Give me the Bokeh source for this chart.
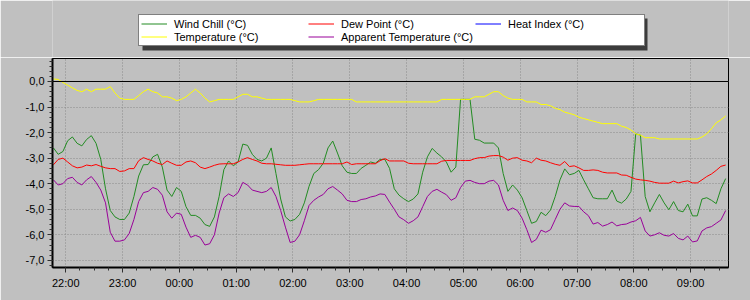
import pandas as pd
from bokeh.plotting import figure
from bokeh.layouts import column
from bokeh.models import (Range1d, FixedTicker, DatetimeTickFormatter, CustomJSTickFormatter,
                          Span, Legend, LegendItem, ColumnDataSource)
from bokeh.embed import file_html
from bokeh.resources import INLINE

# ---------------- data (5-minute readings, 21:47 -> 09:37) ----------------
start_time = "2024-01-01 21:47"
step = "5min"

temperature = [
    0.1, 0.08, -0.04, -0.14, -0.25, -0.35, -0.4, -0.3, -0.4, -0.3,
    -0.3, -0.3, -0.2, -0.45, -0.65, -0.7, -0.7, -0.7, -0.55, -0.4,
    -0.3, -0.4, -0.45, -0.6, -0.6, -0.65, -0.75, -0.7, -0.6, -0.45,
    -0.3, -0.45, -0.65, -0.8, -0.75, -0.7, -0.7, -0.7, -0.7, -0.6,
    -0.5, -0.5, -0.6, -0.6, -0.65, -0.7, -0.7, -0.7, -0.7, -0.7,
    -0.7, -0.75, -0.8, -0.8, -0.8, -0.75, -0.7, -0.7, -0.7, -0.7,
    -0.7, -0.7, -0.7, -0.7, -0.8, -0.8, -0.8, -0.8, -0.8, -0.8,
    -0.8, -0.8, -0.8, -0.8, -0.8, -0.8, -0.8, -0.8, -0.8, -0.8,
    -0.8, -0.8, -0.7, -0.7, -0.7, -0.7, -0.7, -0.7, -0.7, -0.6,
    -0.6, -0.6, -0.5, -0.4, -0.4, -0.55, -0.65, -0.7, -0.7, -0.7,
    -0.8, -0.8, -0.8, -0.9, -0.9, -0.95, -1.05, -1.1, -1.2, -1.25,
    -1.3, -1.4, -1.45, -1.5, -1.55, -1.6, -1.65, -1.65, -1.65, -1.65,
    -1.75, -1.8, -1.9, -2.05, -2.1, -2.2, -2.2, -2.2, -2.25, -2.25,
    -2.25, -2.25, -2.25, -2.25, -2.25, -2.25, -2.25, -2.17, -2.05, -1.85,
    -1.62, -1.5, -1.35,
]

dew_point = [
    -3.26, -3.05, -3.0, -3.15, -3.3, -3.38, -3.35, -3.27, -3.3, -3.25,
    -3.32, -3.38, -3.41, -3.41, -3.52, -3.5, -3.41, -3.41, -3.1, -2.98,
    -3.05, -3.11, -3.2, -3.25, -3.11, -3.2, -3.28, -3.28, -3.15, -3.11,
    -3.18, -3.35, -3.41, -3.35, -3.28, -3.23, -3.22, -3.22, -3.22, -3.15,
    -3.05, -2.98, -3.05, -3.11, -3.2, -3.22, -3.22, -3.24, -3.26, -3.28,
    -3.28, -3.28, -3.26, -3.24, -3.22, -3.22, -3.22, -3.22, -3.22, -3.22,
    -3.22, -3.22, -3.15, -3.25, -3.22, -3.22, -3.22, -3.22, -3.22, -3.1,
    -3.02, -3.11, -3.11, -3.11, -3.11, -3.2, -3.22, -3.22, -3.22, -3.22,
    -3.22, -3.22, -3.12, -3.09, -3.09, -3.09, -3.09, -3.09, -3.09, -3.02,
    -2.98, -2.98, -2.92, -2.9, -2.9, -2.96, -3.08, -3.0, -2.98, -3.08,
    -3.11, -3.18, -3.0, -3.08, -3.11, -3.18, -3.24, -3.28, -3.13, -3.33,
    -3.3, -3.38, -3.48, -3.48, -3.46, -3.48, -3.55, -3.58, -3.58, -3.58,
    -3.66, -3.67, -3.75, -3.82, -3.85, -3.87, -3.9, -3.95, -3.98, -3.98,
    -3.98, -3.9, -3.97, -3.92, -3.89, -3.97, -3.97, -3.85, -3.72, -3.62,
    -3.48, -3.32, -3.27,
]

apparent_temperature = [
    -3.85, -4.05, -4.0, -3.8, -3.75, -3.95, -4.05, -3.85, -3.72, -3.95,
    -4.25, -4.75, -5.9, -6.25, -6.25, -6.2, -5.95, -5.4, -4.7, -4.35,
    -4.3, -4.15, -4.22, -4.45, -5.1, -5.35, -5.15, -5.2, -5.7, -6.1,
    -6.02, -6.1, -6.4, -6.35, -6.0, -5.15, -4.55, -4.4, -4.5, -4.35,
    -3.95, -4.05, -4.25, -4.3, -4.35, -4.3, -4.15, -4.5, -5.05, -5.7,
    -6.3, -6.25, -6.0, -5.45, -4.85, -4.65, -4.52, -4.42, -4.2, -4.11,
    -4.25, -4.4, -4.65, -4.7, -4.7, -4.62, -4.59, -4.52, -4.48, -4.4,
    -4.42, -4.72, -5.0, -5.3, -5.41, -5.55, -5.45, -5.3, -4.9, -4.5,
    -4.3, -4.22, -4.33, -4.43, -4.65, -4.55, -4.15, -3.9, -3.87, -3.95,
    -4.0, -4.0, -3.9, -3.87, -4.05, -4.65, -5.05, -4.95, -5.05, -5.35,
    -5.8, -6.3, -6.18, -5.82, -5.9, -5.8, -5.4, -5.0, -4.75, -4.87,
    -4.89, -4.89, -5.1, -5.25, -5.58, -5.52, -5.66, -5.6, -5.5, -5.65,
    -5.6, -5.58, -5.5, -5.45, -5.32, -5.85, -6.05, -6.0, -5.92, -6.02,
    -6.05, -5.95, -6.14, -6.2, -6.05, -6.28, -6.24, -5.85, -5.73, -5.68,
    -5.55, -5.42, -5.05,
]

wind_chill = [
    -2.6, -2.85, -2.74, -2.32, -2.17, -2.42, -2.52, -2.27, -2.12, -2.42,
    -3.05, -4.2, -5.05, -5.3, -5.4, -5.4, -5.15, -4.5, -3.7, -3.26,
    -3.25, -2.95, -2.85, -3.35, -4.25, -4.5, -4.15, -4.3, -4.9, -5.24,
    -5.24, -5.35, -5.6, -5.67, -5.3, -4.5, -3.45, -3.11, -3.3, -3.15,
    -2.45, -2.5, -2.85, -3.05, -3.11, -3.0, -2.6, -3.6, -4.6, -5.3,
    -5.46, -5.4, -5.2, -4.75, -4.1, -3.6, -3.45, -3.2, -2.6, -2.33,
    -2.8, -3.3, -3.55, -3.6, -3.6, -3.4, -3.28, -3.15, -3.2, -3.05,
    -3.05, -3.4, -4.2, -4.45, -4.59, -4.7, -4.6, -4.4, -3.55, -2.95,
    -2.62, -2.8, -2.95, -3.15, -3.55, -3.35, -0.7, -0.7, -0.7, -2.26,
    -2.3, -2.41, -2.41, -2.41, -2.6, -3.6, -4.3, -4.05, -4.25, -4.55,
    -5.05, -5.55, -5.48, -5.12, -5.25, -5.03, -4.5, -3.85, -3.42, -3.65,
    -3.6, -3.48, -3.85, -4.2, -4.55, -4.59, -4.59, -4.59, -4.25, -4.68,
    -4.76, -4.6, -4.3, -2.05, -2.1, -4.5, -5.1, -4.75, -4.42, -4.75,
    -5.02, -4.7, -5.05, -5.1, -4.8, -5.26, -5.26, -4.6, -4.55, -4.65,
    -4.78, -4.2, -3.8,
]

series_labels = ["Wind Chill (°C)", "Dew Point (°C)", "Heat Index (°C)",
                 "Temperature (°C)", "Apparent Temperature (°C)"]
series_colors = ["#228B22", "#ff0000", "#0000ff", "#ffff00", "#990099"]
# column of each legend entry (Heat Index has no trace drawn in the chart)
series_fields = ["wc", "dp", "tmp", "tmp", "at"]

y_major = [0, -1, -2, -3, -4, -5, -6, -7]
x_start, x_end = "2024-01-01 21:46", "2024-01-02 09:40"
hour_first, hour_last = "2024-01-01 22:00", "2024-01-02 09:00"

times = pd.date_range(start_time, periods=len(temperature), freq=step)
src = ColumnDataSource(dict(t=times, wc=wind_chill, dp=dew_point,
                            tmp=temperature, at=apparent_temperature))

BG = "#c0c0c0"
FONT = "Liberation Sans"
W, H = 750, 300
FRAME_L, FRAME_R, FRAME_T, FRAME_B = 52, 728, 58, 267
LEG_H = FRAME_T - 1

# ---------------- legend strip ----------------
# canvas-pixel coordinates (frame is aligned with the chart below)
lg = figure(width=W, height=LEG_H, output_backend="svg", toolbar_location=None,
            x_range=Range1d(FRAME_L, FRAME_R), y_range=Range1d(LEG_H, 0),
            x_axis_location=None, y_axis_location=None,
            min_border_left=FRAME_L, min_border_right=W - FRAME_R,
            min_border_top=0, min_border_bottom=0,
            background_fill_color=BG, border_fill_color=BG,
            outline_line_color=None)
lg.grid.visible = False
lg.quad(left=[142], right=[647], top=[18], bottom=[50],
        fill_color="#3c3c3c", line_color=None)
# legend proxies: the series plotted on datetime x, far outside this strip's view
proxies = [lg.line("t", f, source=src, line_color=c, line_width=1)
           for f, c in zip(series_fields, series_colors)]
legend = Legend(items=[LegendItem(label=l, renderers=[r])
                       for l, r in zip(series_labels, proxies)],
                location=(138 - FRAME_L, LEG_H - 46), orientation="horizontal", ncols=3,
                background_fill_color="white", background_fill_alpha=1,
                border_line_color="black", border_line_width=1,
                padding=2, margin=0, spacing=0,
                glyph_width=26, glyph_height=13, label_height=13, label_width=134,
                label_standoff=7, label_text_font=FONT, label_text_font_size="11px",
                label_text_color="black")
lg.add_layout(legend)

# ---------------- main chart ----------------
p = figure(width=W, height=H - LEG_H, output_backend="svg", toolbar_location=None,
           x_axis_type="datetime",
           x_range=Range1d(pd.Timestamp(x_start), pd.Timestamp(x_end)),
           y_range=Range1d(-7.28, 0.9),
           min_border_left=FRAME_L, min_border_right=W - FRAME_R,
           min_border_top=FRAME_T - LEG_H, min_border_bottom=H - FRAME_B,
           background_fill_color=BG, border_fill_color=BG,
           outline_line_color="black", outline_line_width=1)

def ms(ts):
    return ts.value // 10**6

hours = pd.date_range(hour_first, hour_last, freq="1h")
quarters = pd.date_range(pd.Timestamp(hour_first) - pd.Timedelta("15min"),
                         pd.Timestamp(x_end), freq="15min")
p.xaxis.ticker = FixedTicker(ticks=[ms(h) for h in hours],
                             minor_ticks=[ms(q) for q in quarters])
p.xaxis.formatter = DatetimeTickFormatter(hours="%H:%M", hourmin="%H:%M",
                                          minutes="%H:%M", days="%H:%M")
y_minor = [round(-7.2 + 0.2 * i, 1) for i in range(41)]
p.yaxis.ticker = FixedTicker(ticks=y_major, minor_ticks=y_minor)
p.yaxis.formatter = CustomJSTickFormatter(code="return tick.toFixed(1).replace('.', ',');")

for ax in (p.xaxis, p.yaxis):
    ax.axis_line_width = 2
    ax.axis_line_color = "black"
    ax.major_tick_line_color = "#303030"
    ax.minor_tick_line_color = "#303030"
    ax.major_tick_out = 5
    ax.major_tick_in = 0
    ax.minor_tick_out = 3
    ax.minor_tick_in = 0
    ax.major_label_text_font = FONT
    ax.major_label_text_font_size = "11px"
    ax.major_label_text_color = "black"
p.yaxis.major_label_standoff = 3
p.xaxis.major_label_standoff = 4

p.grid.grid_line_color = "#8a8a8a"
p.grid.grid_line_dash = "1 2"
p.grid.grid_line_width = 1

p.add_layout(Span(location=0, dimension="width", line_color="black", line_width=1))

p.line("t", "wc", source=src, line_color=series_colors[0], line_width=1)
p.line("t", "dp", source=src, line_color=series_colors[1], line_width=1)
p.line("t", "tmp", source=src, line_color=series_colors[3], line_width=1)
p.line("t", "at", source=src, line_color=series_colors[4], line_width=1)

layout = column(lg, p, spacing=0)
open("out.html", "w").write(file_html(layout, INLINE))
